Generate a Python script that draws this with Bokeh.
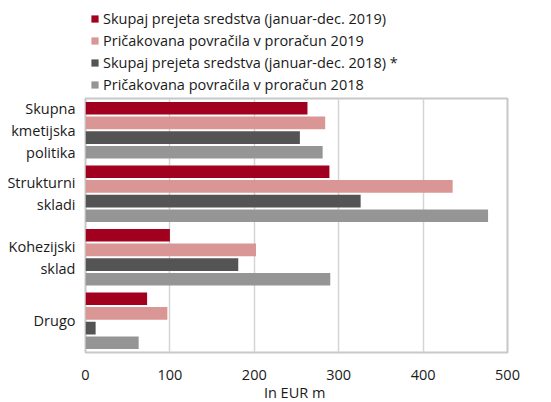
from bokeh.plotting import figure
from bokeh.models import ColumnDataSource, FactorRange, Legend, LegendItem, Range1d
from bokeh.layouts import column
from bokeh.transform import dodge
from bokeh.embed import file_html
from bokeh.resources import INLINE

categories = ["Skupna\nkmetijska\npolitika", "Strukturni\nskladi", "Kohezijski\nsklad", "Drugo"]
prejeta_2019 = [263, 289, 100, 73]
povracila_2019 = [284, 435, 202, 97]
prejeta_2018 = [254, 326, 181, 12]
povracila_2018 = [281, 477, 290, 63]
series_names = [
    "Skupaj prejeta sredstva (januar-dec. 2019)",
    "Pričakovana povračila v proračun 2019",
    "Skupaj prejeta sredstva (januar-dec. 2018) *",
    "Pričakovana povračila v proračun 2018",
]
colors = ["#A1001E", "#DA9595", "#545454", "#959595"]
x_ticks = [0, 100, 200, 300, 400, 500]

FONT = "Open Sans"
FS = "14.5px"
source = ColumnDataSource(dict(cat=categories, s0=prejeta_2019, s1=povracila_2019,
                               s2=prejeta_2018, s3=povracila_2018))
cols = ["s0", "s1", "s2", "s3"]
offsets = [0.3465, 0.1155, -0.1155, -0.3465]

# ---- legend strip (separate figure so the legend is not clipped by the frame)
lg = figure(width=535, height=96, output_backend="svg", toolbar_location=None,
            x_range=Range1d(0, 500), y_range=FactorRange(factors=categories),
            x_axis_location=None, y_axis_location=None,
            min_border_left=75, min_border_right=0, min_border_top=4, min_border_bottom=0)
lg.outline_line_color = None
lg.grid.grid_line_color = None
items = []
for i, col in enumerate(cols):
    r = lg.hbar(y="cat", right=col, left=0, height=0.2, source=source,
                fill_color=colors[i], line_color=None)
    r.visible = False
    items.append(LegendItem(label=series_names[i], renderers=[r]))
legend = Legend(items=items, location="top_left", orientation="vertical",
                glyph_width=9, glyph_height=9, label_height=18, spacing=3,
                padding=0, margin=5, label_standoff=4, border_line_color=None,
                background_fill_alpha=0, inactive_fill_alpha=0,
                label_text_font=FONT, label_text_font_size=FS,
                label_text_color="#1a1a1a")
lg.add_layout(legend, "center")

# ---- main chart
p = figure(frame_width=422, frame_height=254, output_backend="svg", toolbar_location=None,
           y_range=FactorRange(factors=list(reversed(categories)), range_padding=0),
           x_range=Range1d(0, 500),
           min_border_left=85, min_border_right=28, min_border_bottom=20, min_border_top=2)

for i, (col, off) in enumerate(zip(cols, offsets)):
    p.hbar(y=dodge("cat", off, range=p.y_range), right=col, left=0, height=0.2,
           source=source, fill_color=colors[i], line_color=None)

p.outline_line_color = "#C8C8C8"
p.outline_line_width = 2
p.ygrid.grid_line_color = None
p.xgrid.grid_line_color = "#D4D4D4"
p.xgrid.grid_line_width = 1.5
p.xaxis.ticker = x_ticks
p.xaxis.axis_label = "In EUR  m"
p.xaxis.axis_label_text_font = FONT
p.xaxis.axis_label_text_font_style = "normal"
p.xaxis.axis_label_text_font_size = FS
p.xaxis.axis_label_text_color = "#1a1a1a"
p.xaxis.axis_label_standoff = 0
p.xaxis.major_label_standoff = 17
for ax in (p.xaxis, p.yaxis):
    ax.axis_line_color = None
    ax.major_tick_line_color = None
    ax.minor_tick_line_color = None
    ax.major_tick_out = 0
    ax.major_tick_in = 0
    ax.major_label_text_font = FONT
    ax.major_label_text_font_size = FS
    ax.major_label_text_color = "#1a1a1a"
p.yaxis.major_label_standoff = 10
p.yaxis.major_label_text_align = "center"
p.yaxis.major_label_text_line_height = 1.15

layout = column(lg, p, spacing=0)
open("out.html", "w").write(file_html(layout, INLINE))
